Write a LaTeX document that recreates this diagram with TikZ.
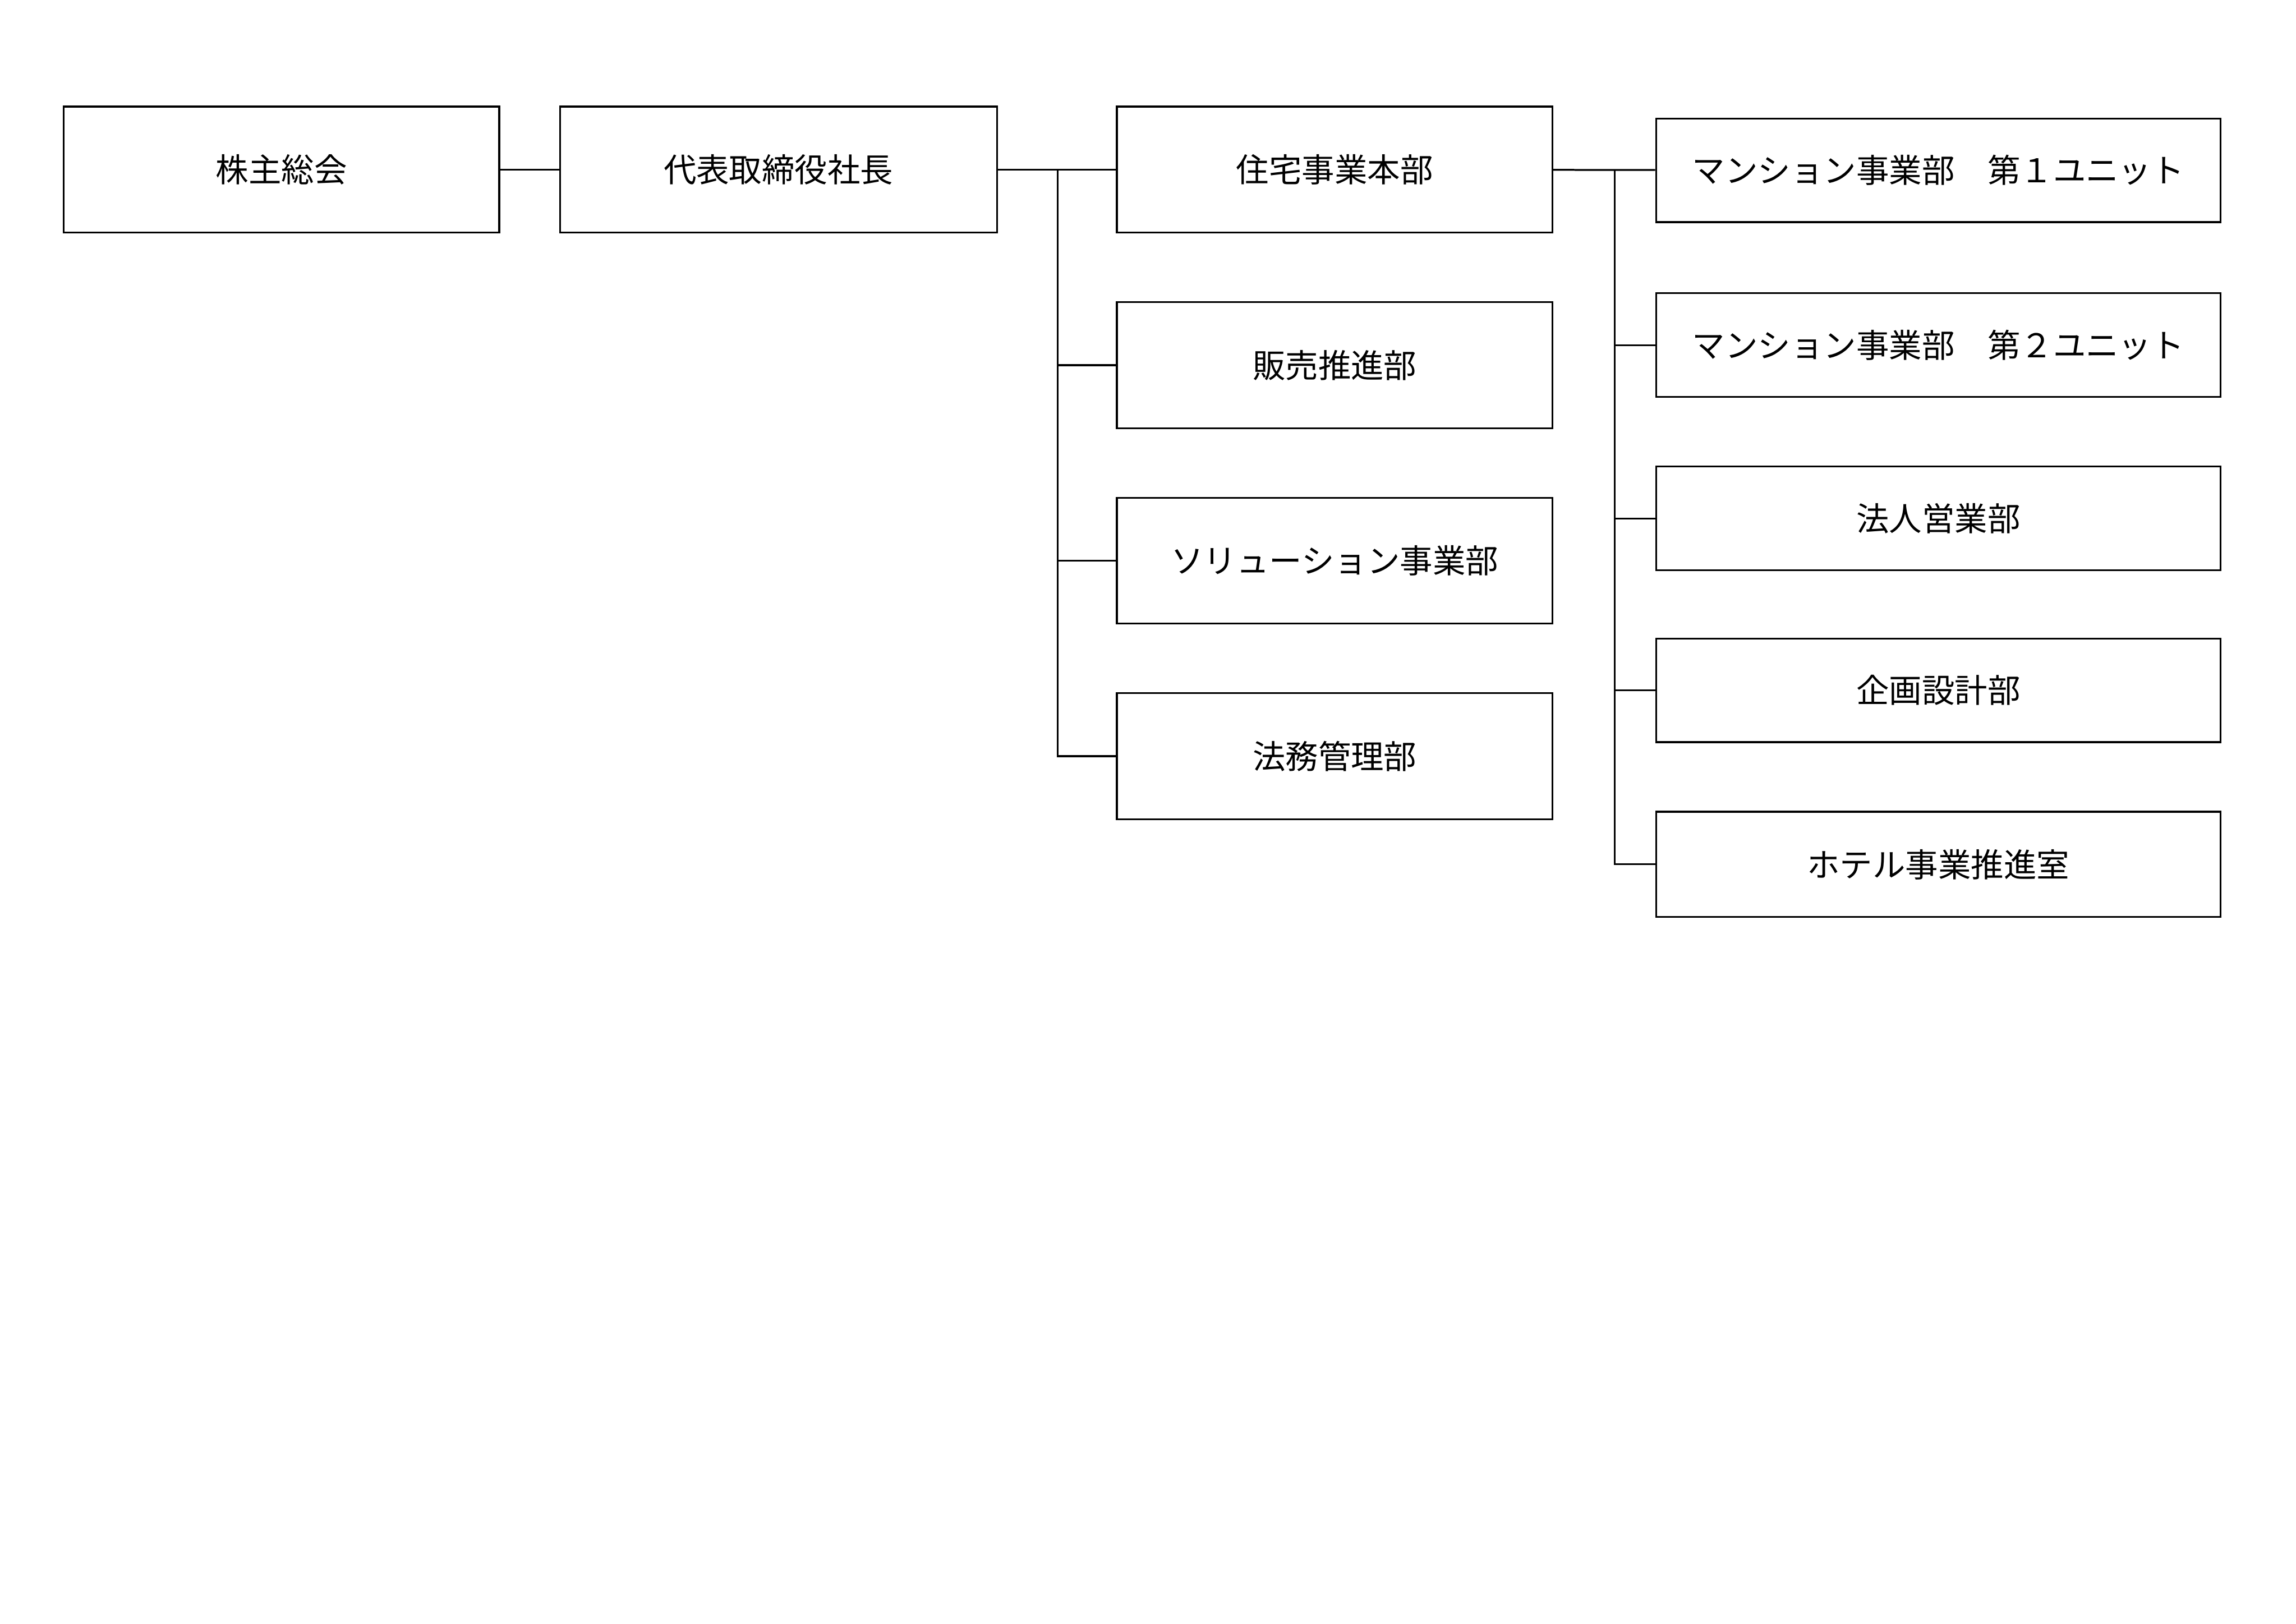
\documentclass[tikz,border=0pt]{standalone}
\usepackage{fontspec}
\setmainfont{Noto Sans CJK JP}
\begin{document}
\begin{tikzpicture}[x=0.1mm,y=-0.1mm,
  box/.style={draw,line width=0.35pt,inner sep=0pt,font=\fontsize{6.3}{7}\selectfont},
  ln/.style={line width=0.35pt}]
\useasboundingbox (0,0) rectangle (1550,1096);
\newcommand\bx[6]{\node[box,minimum width=#4*0.1mm,minimum height=#5*0.1mm] (#1) at (#2,#3) {#6};}
\bx{a}{190}{114.5}{294}{85}{株主総会}
\bx{b}{525.5}{114.5}{295}{85}{代表取締役社長}
\bx{m1}{901}{114.5}{294}{85}{住宅事業本部}
\bx{m2}{901}{246.5}{294}{85}{販売推進部}
\bx{m3}{901}{378.5}{294}{85}{ソリューション事業部}
\bx{m4}{901}{510.5}{294}{85}{法務管理部}
\bx{r1}{1308.5}{115}{381}{70}{マンション事業部　第１ユニット}
\bx{r2}{1308.5}{233}{381}{70}{マンション事業部　第２ユニット}
\bx{r3}{1308.5}{350}{381}{70}{法人営業部}
\bx{r4}{1308.5}{466}{381}{70}{企画設計部}
\bx{r5}{1308.5}{583.5}{381}{71}{ホテル事業推進室}
\draw[ln] (a) -- (b);
\draw[ln] (b) -- (m1);
\coordinate (t1) at (714,115);
\coordinate (t2) at (1090,115);
\draw[ln] (t1) |- (m4.west);
\foreach \n in {m2,m3} \draw[ln] (t1 |- \n.west) -- (\n.west);
\draw[ln] (m1) -- (r1);
\draw[ln] (t2) |- (r5.west);
\foreach \n in {r2,r3,r4} \draw[ln] (t2 |- \n.west) -- (\n.west);
\end{tikzpicture}
\end{document}
